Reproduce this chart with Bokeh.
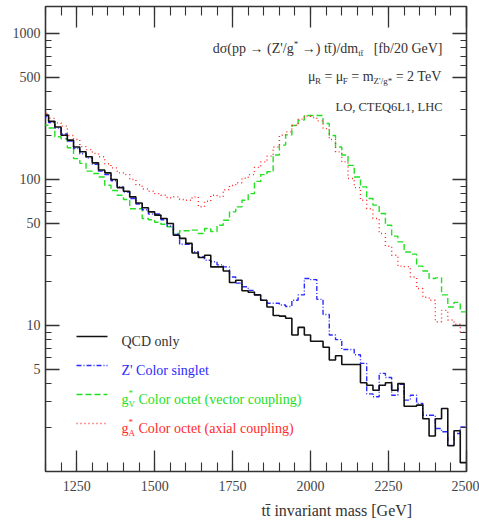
from bokeh.plotting import figure
from bokeh.models import FixedTicker, LinearAxis, LogAxis, Label, Arrow, PrintfTickFormatter, Title
from bokeh.embed import file_html
from bokeh.resources import INLINE

# ---- histogram data: 20 GeV bins, left edges from 1140 GeV ----
bin_width = 20
first_edge = 1140
qcd_only = [276, 250, 229, 201, 186, 167, 155, 143, 130, 116,
            111, 100, 88, 83, 76, 69, 64, 60, 57, 54,
            50, 41.5, 39.5, 36.5, 31.4, 29.2, 30.3, 25.2, 25.2, 23.6,
            19.7, 20.4, 17.3, 16.9, 16.2, 14.9, 13.4, 11.7, 11.6, 11.2,
            8.6, 9.7, 8.6, 7.8, 7.8, 7.1, 5.8, 6.2, 5.4, 5.4,
            5.4, 4.05, 3.9, 3.6, 3.9, 4.05, 3.6, 4.0, 2.8, 2.8,
            2.85, 2.3, 1.75, 2.3, 2.7, 1.5, 1.9, 1.15]
z_singlet = [270, 245, 225, 205, 183, 163, 150, 140, 127, 114,
             108, 98, 89, 82, 74, 68, 62, 58, 58, 53,
             48, 42, 36, 36, 32, 29.5, 28, 27.3, 26, 25.2,
             21.5, 19.5, 18.4, 17.4, 16.2, 14.9, 14.2, 14.2, 13.8, 13.5,
             14.9, 16.2, 21, 20.6, 15.1, 11.9, 8.6, 8.0, 6.85, 6.85,
             6.3, 5.5, 3.4, 3.25, 4.7, 4.4, 3.33, 3.96, 3.08, 3.33,
             2.92, 2.43, 2.43, 1.97, 1.87, 1.51, 1.82, 2.02]
g_vector = [235, 225, 196, 190, 165, 139, 129, 114, 110, 104,
            91.4, 84, 78, 73, 63, 63, 54, 53, 51, 49.4,
            47.4, 42.7, 44.5, 44.5, 45, 42.7, 46.2, 44, 48.6, 52.6,
            60, 64.9, 72, 80, 97, 108, 113, 147, 172, 202,
            234, 255, 274, 274, 274, 242, 200, 167, 147, 125,
            104, 89, 74, 66.7, 58.5, 48.6, 40.9, 37.4, 31.9, 30.8,
            25.5, 23.6, 21, 21.2, 16.2, 13.4, 14.4, 12.4]
g_axial = [283, 262, 244, 232, 200, 188, 168, 160, 151, 143,
           128, 120, 111, 108, 100, 92, 86, 83, 80, 78,
           75, 76, 73, 72, 76, 65, 71, 78, 76, 85,
           91, 95, 102, 108, 121, 132, 144.5, 167, 201, 212,
           235, 259, 272, 266, 252, 223, 188, 154.5, 132, 101.6,
           88, 72, 63, 54, 42.7, 34.9, 30.3, 25.5, 25.3, 21.5,
           17.9, 15.6, 14.9, 10.6, 12.7, 10.9, 10.2, 9.0]

x_major = [1250, 1500, 1750, 2000, 2250, 2500]
x_minor = list(range(1150, 2501, 50))
y_major = [5, 10, 50, 100, 500, 1000]
y_minor = [2, 3, 4, 6, 7, 8, 9, 20, 30, 40, 60, 70, 80, 90, 200, 300, 400, 600, 700, 800, 900]

FONT = "Liberation Serif"
INK = "#333333"
BLACK, BLUE, GREEN, RED = "#111111", "#2b2bff", "#22e022", "#ff2a2a"
NBSP = "\u00a0"

p = figure(frame_width=421, frame_height=465, x_range=(1150, 2500), y_range=(1, 1530),
           y_axis_type="log", output_backend="svg", toolbar_location=None,
           min_border_left=45, min_border_right=13, min_border_top=6, min_border_bottom=56)
p.grid.visible = False
p.outline_line_color = INK
p.outline_line_width = 1.6
p.background_fill_color = "white"
p.border_fill_color = "white"

edges = [first_edge + bin_width * i for i in range(len(qcd_only) + 1)]


def hist(vals, **kw):
    p.step(x=edges, y=list(vals) + [vals[-1]], mode="after", **kw)


hist(g_vector, line_color=GREEN, line_width=1.4, line_dash="6 3")
hist(g_axial, line_color=RED, line_width=1.4, line_dash="1 3")
hist(z_singlet, line_color=BLUE, line_width=1.4, line_dash="5 2 1 2")
hist(qcd_only, line_color=BLACK, line_width=1.6)


def style_axis(ax, major_in, minor_in, labels=True):
    ax.axis_line_color = None
    ax.major_tick_in = major_in
    ax.major_tick_out = 0
    ax.minor_tick_in = minor_in
    ax.minor_tick_out = 0
    ax.major_tick_line_color = INK
    ax.minor_tick_line_color = INK
    ax.major_tick_line_width = 1.3
    ax.minor_tick_line_width = 1.1
    if labels:
        ax.major_label_text_font = FONT
        ax.major_label_text_font_size = "14px"
        ax.major_label_text_color = "#444444"
    else:
        # tick marks only, no numbers
        ax.major_label_text_font_size = "0px"
        ax.major_label_text_color = None
        ax.major_label_standoff = 0


xt = FixedTicker(ticks=x_major, minor_ticks=x_minor)
yt = FixedTicker(ticks=y_major, minor_ticks=y_minor)

p.xaxis.ticker = xt
style_axis(p.xaxis[0], 21, 9)
p.xaxis.major_label_standoff = 9
p.yaxis.ticker = yt
p.yaxis.formatter = PrintfTickFormatter(format="%d")
style_axis(p.yaxis[0], 14, 6)
p.yaxis.major_label_standoff = 5

top_ax = LinearAxis(ticker=FixedTicker(ticks=x_major, minor_ticks=x_minor))
style_axis(top_ax, 21, 9, labels=False)
p.add_layout(top_ax, "above")
right_ax = LogAxis(ticker=FixedTicker(ticks=y_major, minor_ticks=y_minor))
style_axis(right_ax, 14, 6, labels=False)
p.add_layout(right_ax, "right")

# ---- simple rich text: pieces of (text, size, rise, advances) ----
CW = {' ': .25, NBSP: .25, '(': .333, ')': .333, '*': .5, ',': .25, '.': .25, '/': .278,
      '=': .564, '[': .333, ']': .333, "'": .18, '→': 1.0, 'σ': .55, 'μ': .5, '\u0304': 0.0,
      'A': .722, 'C': .667, 'D': .722, 'E': .611, 'F': .556, 'G': .722, 'H': .722,
      'L': .611, 'O': .722, 'Q': .722, 'R': .667, 'T': .611, 'V': .722, 'Z': .611,
      'a': .444, 'b': .5, 'c': .444, 'd': .5, 'e': .444, 'f': .333, 'g': .5, 'i': .278,
      'l': .278, 'm': .778, 'n': .5, 'o': .5, 'p': .5, 'r': .333, 's': .389, 't': .278,
      'u': .5, 'v': .5, 'x': .5, 'y': .5}


def width(s, size):
    return sum(CW.get(ch, 0.5) for ch in s) * size


def keep_edges(s):
    # SVG trims leading/trailing blanks; make them hard spaces
    core = s.strip(" ")
    lead = len(s) - len(s.lstrip(" "))
    trail = len(s) - len(s.rstrip(" "))
    return NBSP * lead + core + NBSP * trail


def rich(parts, x, y, color, align="left"):
    total = sum(width(t, s) for t, s, r, adv in parts if adv)
    cx = x - total if align == "right" else x
    for t, s, r, adv in parts:
        p.add_layout(Label(x=cx, y=y + r, x_units="screen", y_units="screen", text=keep_edges(t),
                           text_font=FONT, text_font_size=f"{s}px", text_color=color,
                           text_align="left", text_baseline="alphabetic"))
        if adv:
            cx += width(t, s)


# header block, right aligned
rich([("dσ(pp → (Z'/g", 14, 0, True), ("*", 9, 5, True), (" →) tt\u0304)/dm", 14, 0, True),
      ("tt\u0304", 9, -4, True), ("   [fb/20 GeV]", 14, 0, True)], 397, 423, INK, "right")
rich([("μ", 14, 0, True), ("R", 9, -4, True), (" = μ", 14, 0, True), ("F", 9, -4, True),
      (" = m", 14, 0, True), ("Z'/g*", 9, -4, True), (" = 2 TeV", 14, 0, True)],
     397, 395, INK, "right")
rich([("LO, CTEQ6L1, LHC", 12.5, 0, True)], 397, 365, INK, "right")

# key
key_rows = [
    (135, BLACK, None, [("QCD only", 14, 0, True)], INK),
    (106, BLUE, "5 2 1 2", [("Z' Color singlet", 14, 0, True)], BLUE),
    (77, GREEN, "6 3", [("g", 14, 0, True), ("*", 9, 6, False), ("V", 9, -5, True),
                        (" Color octet (vector coupling)", 14, 0, True)], GREEN),
    (48, RED, "1 3", [("g", 14, 0, True), ("*", 9, 6, False), ("A", 9, -5, True),
                      (" Color octet (axial coupling)", 14, 0, True)], RED),
]
for ky, lc, dash, parts, tc in key_rows:
    kw = dict(line_color=lc, line_width=1.5)
    if dash:
        kw["line_dash"] = dash
    p.add_layout(Arrow(end=None, x_start=31, y_start=ky, x_end=62, y_end=ky,
                       start_units="screen", end_units="screen", **kw))
    rich(parts, 76, ky - 4.5, tc)

# x axis title, placed under the tick numbers
p.add_layout(Title(text="tt\u0304 invariant mass [GeV]", align="left", offset=216,
                   text_font=FONT, text_font_size="16px", text_font_style="normal",
                   text_color=INK, standoff=12), "below")

open("out.html", "w").write(file_html(p, INLINE))
